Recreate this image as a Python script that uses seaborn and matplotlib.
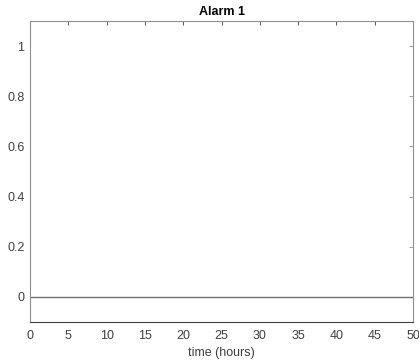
import matplotlib
matplotlib.use("Agg")
import matplotlib.pyplot as plt
import seaborn as sns
import pandas as pd

# data
time_hours = [0, 50]
alarm_1 = [0, 0]
x_ticks = [0, 5, 10, 15, 20, 25, 30, 35, 40, 45, 50]
y_ticks = [0, 0.2, 0.4, 0.6, 0.8, 1]

sns.set_style("white")
plt.rcParams["font.family"] = ["Liberation Sans", "DejaVu Sans"]

df = pd.DataFrame({"time": time_hours, "alarm": alarm_1})

fig = plt.figure(figsize=(4.19, 3.62), dpi=100)
ax = fig.add_axes([30 / 419, 40 / 362, 383 / 419, 301 / 362])

sns.lineplot(data=df, x="time", y="alarm", color="#707070", linewidth=1.0, ax=ax)

ax.set_xlim(0, 50)
ax.set_ylim(-0.1, 1.1)
ax.set_xticks(x_ticks)
ax.set_yticks(y_ticks)
ax.set_yticklabels(["0", "0.2", "0.4", "0.6", "0.8", "1"])
ax.set_xlabel("time (hours)", fontsize=9, color="#404040", labelpad=3.5)
ax.set_ylabel("")
ax.set_title("Alarm 1", fontsize=9, fontweight="bold", color="#000000", pad=4.5)

for name, spine in ax.spines.items():
    spine.set_visible(True)
    spine.set_linewidth(0.8)
    spine.set_color("#909090")
ax.spines["bottom"].set_color("#404040")
ax.tick_params(direction="in", length=3, width=0.6, colors="#404040",
               labelsize=9, top=True, right=True, labelcolor="#404040")
ax.tick_params(axis="x", pad=6)
ax.tick_params(axis="y", colors="#909090", labelcolor="#404040", pad=4)

fig.savefig("out.png", dpi=100)
